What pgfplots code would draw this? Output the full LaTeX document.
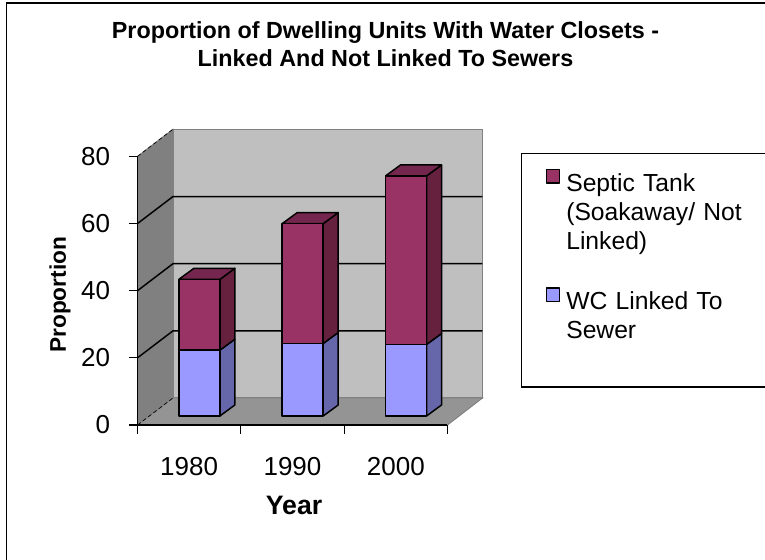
\documentclass[border=0pt]{standalone}
\usepackage{fontspec}
\setmainfont{Liberation Sans}
\usepackage{pgfplots}
\pgfplotsset{compat=1.18}
\definecolor{maroonF}{HTML}{993366}
\definecolor{maroonS}{HTML}{66213F}
\definecolor{maroonT}{HTML}{75264E}
\definecolor{blueF}{HTML}{9999FF}
\definecolor{blueS}{HTML}{6666AA}
\pgfplotsset{
  common/.style={
    scale only axis, width=232.5pt, height=201.45pt,
    xmin=0, xmax=3, ymin=0, ymax=80,
    clip=false,
    at={(103.125pt,101.25pt)}, anchor=south west,
  },
  face/.style={draw=black, line width=1.1pt, line join=round, xshift=7.65pt, yshift=6.75pt},
  swatch/.style 2 args={legend image code/.code={\draw[fill=#1, draw=black, line width=1.1pt] (0pt,-0.5pt) rectangle (10pt,9.5pt); \node[draw=none, fill=none, inner sep=0pt, minimum size=0pt, anchor=center] at (0pt,-#2) {};}},
}
\begin{document}
\begin{tikzpicture}
\path[use as bounding box] (0,0) rectangle (573.75pt,420pt);
\draw[black, line width=1.1pt] (4.7pt,0) -- (4.7pt,417.7pt) -- (573.75pt,417.7pt);
\begin{axis}[common,
  axis lines=left, axis line style={-, black, line width=1.2pt},
  axis on top,
  tick align=outside,
  xtick={0.5,1.5,2.5}, xticklabels={1980,1990,2000},
  major x tick style={draw=none},
  minor xtick={0,1,2,3},
  minor x tick style={draw=black, line width=0.9pt},
  minor tick length=6.5pt,
  ytick={0,20,40,60,80},
  major y tick style={black, line width=0.9pt},
  major tick length=6.5pt,
  /pgf/number format/assume math mode=true,
  tick label style={font=\fontsize{19.5}{22}\selectfont},
  yticklabel style={xshift=-10.5pt},
  xticklabel style={yshift=-14pt},
  xlabel={Year}, ylabel={Proportion},
  xlabel style={font=\fontsize{20}{22}\bfseries\selectfont, at={(axis description cs:0.505,-0.30)}, anchor=center},
  ylabel style={font=\fontsize{17}{20}\bfseries\selectfont, at={(axis description cs:-0.25,0.485)}, anchor=center, rotate=0},
  title={Proportion of Dwelling Units With Water Closets -\\Linked And Not Linked To Sewers},
  title style={font=\fontsize{17.5}{21}\bfseries\selectfont, align=center, at={(axis description cs:0.8,1.388)}, anchor=center},
]
% side wall, back wall, floor
\addplot[fill=black!50, draw=gray, line width=0.7pt] coordinates {(0,0) (0.3435,8.05) (0.3435,88.1) (0,80) (0,0)};
\addplot[fill=black!25, draw=gray, line width=0.8pt] coordinates {(0.3435,8.05) (3.3387,8.05) (3.3387,88.1) (0.3435,88.1) (0.3435,8.05)};
\addplot[fill=black!42, draw=gray, line width=0.7pt] coordinates {(0,0) (3,0) (3.3387,8.05) (0.3435,8.05) (0,0)};
\addplot[black, densely dashed, line width=0.5pt] coordinates {(0,0) (0.3435,8.05)};
\addplot[black, densely dashed, line width=0.5pt] coordinates {(0,80) (0.3435,88.1)};
% gridlines
\addplot[black, line width=1.1pt] coordinates {(0,20) (0.3435,28.05) (3.3387,28.05)};
\addplot[black, line width=1.1pt] coordinates {(0,40) (0.3435,48.05) (3.3387,48.05)};
\addplot[black, line width=1.1pt] coordinates {(0,60) (0.3435,68.05) (3.3387,68.05)};
% bar sides and tops
\addplot[face, fill=blueS] coordinates {(0.6985,0) (0.8437,3.28) (0.8437,22.88) (0.6985,19.6) (0.6985,0)};
\addplot[face, fill=maroonS] coordinates {(0.6985,19.6) (0.8437,22.88) (0.8437,43.98) (0.6985,40.7) (0.6985,19.6)};
\addplot[face, fill=maroonT] coordinates {(0.3015,40.7) (0.6985,40.7) (0.8437,43.98) (0.4467,43.98) (0.3015,40.7)};
\addplot[face, fill=blueS] coordinates {(1.6985,0) (1.8437,3.28) (1.8437,24.88) (1.6985,21.6) (1.6985,0)};
\addplot[face, fill=maroonS] coordinates {(1.6985,21.6) (1.8437,24.88) (1.8437,60.58) (1.6985,57.3) (1.6985,21.6)};
\addplot[face, fill=maroonT] coordinates {(1.3015,57.3) (1.6985,57.3) (1.8437,60.58) (1.4467,60.58) (1.3015,57.3)};
\addplot[face, fill=blueS] coordinates {(2.6985,0) (2.8437,3.28) (2.8437,24.58) (2.6985,21.3) (2.6985,0)};
\addplot[face, fill=maroonS] coordinates {(2.6985,21.3) (2.8437,24.58) (2.8437,74.78) (2.6985,71.5) (2.6985,21.3)};
\addplot[face, fill=maroonT] coordinates {(2.3015,71.5) (2.6985,71.5) (2.8437,74.78) (2.4467,74.78) (2.3015,71.5)};
\end{axis}
\begin{axis}[common,
  hide axis,
  ybar stacked, bar width=0.397,
  reverse legend,
  legend style={
    at={(axis description cs:1.237,1.0127)}, anchor=north west,
    draw=black, line width=0.8pt, fill=white,
    inner xsep=18pt, inner ysep=11.5pt,
    row sep=0pt, column sep=2.5pt,
    cells={anchor=base west},
    nodes={font=\fontsize{18.5}{21.75}\selectfont, align=left},
    /tikz/column 2/.style={nodes={text width=150pt, align=left, anchor=base west}},
  },
]
\addplot[face, fill=blueF, swatch={blueF}{52.5pt}] coordinates {(0.5,19.6) (1.5,21.6) (2.5,21.3)};
\addlegendentry{WC Linked To\\Sewer}
\addplot[face, fill=maroonF, swatch={maroonF}{78pt}] coordinates {(0.5,21.1) (1.5,35.7) (2.5,50.2)};
\addlegendentry{Septic Tank\\(Soakaway/ Not\\Linked)}
\end{axis}
\end{tikzpicture}
\end{document}
